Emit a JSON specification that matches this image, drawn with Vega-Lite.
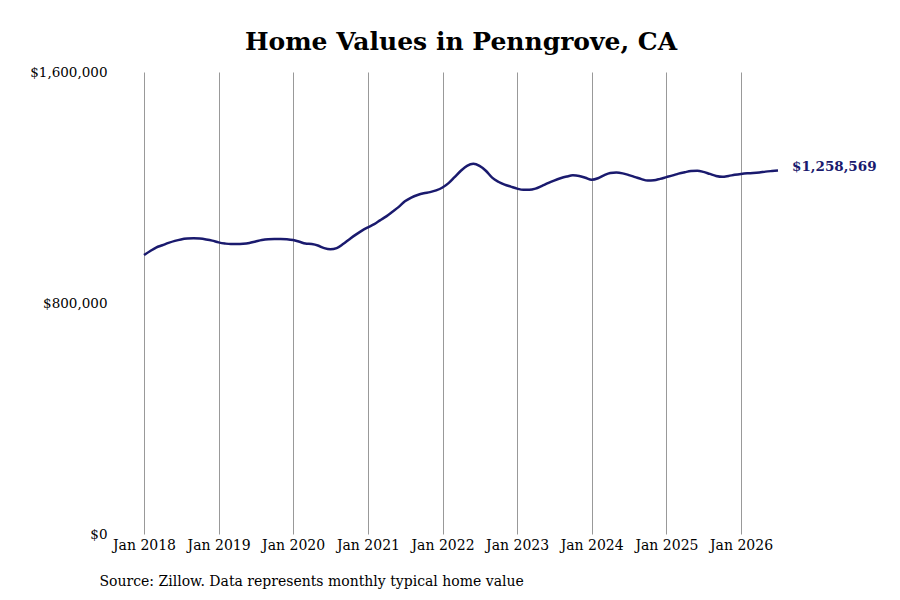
{
  "$schema": "https://vega.github.io/schema/vega-lite/v6.json",
  "autosize": "none",
  "width": 634,
  "height": 462,
  "padding": {"left": 144, "top": 72, "right": 122, "bottom": 66},
  "background": "white",
  "config": {
    "font": "DejaVu Serif",
    "view": {"stroke": null}
  },
  "title": {
    "text": "Home Values in Penngrove, CA",
    "font": "DejaVu Serif",
    "fontSize": 25,
    "fontWeight": "bold",
    "color": "black",
    "anchor": "middle",
    "offset": 10
  },
  "data": {
    "values": [
      {"date": "2018-01-01", "value": 966000},
      {"date": "2018-02-01", "value": 980000},
      {"date": "2018-03-01", "value": 992000},
      {"date": "2018-04-01", "value": 1000000},
      {"date": "2018-05-01", "value": 1008000},
      {"date": "2018-06-01", "value": 1015000},
      {"date": "2018-07-01", "value": 1020000},
      {"date": "2018-08-01", "value": 1023000},
      {"date": "2018-09-01", "value": 1024000},
      {"date": "2018-10-01", "value": 1023000},
      {"date": "2018-11-01", "value": 1020000},
      {"date": "2018-12-01", "value": 1016000},
      {"date": "2019-01-01", "value": 1010000},
      {"date": "2019-02-01", "value": 1006000},
      {"date": "2019-03-01", "value": 1004000},
      {"date": "2019-04-01", "value": 1004000},
      {"date": "2019-05-01", "value": 1005000},
      {"date": "2019-06-01", "value": 1008000},
      {"date": "2019-07-01", "value": 1013000},
      {"date": "2019-08-01", "value": 1018000},
      {"date": "2019-09-01", "value": 1021000},
      {"date": "2019-10-01", "value": 1022000},
      {"date": "2019-11-01", "value": 1022000},
      {"date": "2019-12-01", "value": 1021000},
      {"date": "2020-01-01", "value": 1018000},
      {"date": "2020-02-01", "value": 1012000},
      {"date": "2020-03-01", "value": 1006000},
      {"date": "2020-04-01", "value": 1004000},
      {"date": "2020-05-01", "value": 999000},
      {"date": "2020-06-01", "value": 990000},
      {"date": "2020-07-01", "value": 986000},
      {"date": "2020-08-01", "value": 990000},
      {"date": "2020-09-01", "value": 1004000},
      {"date": "2020-10-01", "value": 1020000},
      {"date": "2020-11-01", "value": 1036000},
      {"date": "2020-12-01", "value": 1050000},
      {"date": "2021-01-01", "value": 1062000},
      {"date": "2021-02-01", "value": 1073000},
      {"date": "2021-03-01", "value": 1086000},
      {"date": "2021-04-01", "value": 1100000},
      {"date": "2021-05-01", "value": 1116000},
      {"date": "2021-06-01", "value": 1133000},
      {"date": "2021-07-01", "value": 1152000},
      {"date": "2021-08-01", "value": 1165000},
      {"date": "2021-09-01", "value": 1174000},
      {"date": "2021-10-01", "value": 1180000},
      {"date": "2021-11-01", "value": 1184000},
      {"date": "2021-12-01", "value": 1190000},
      {"date": "2022-01-01", "value": 1200000},
      {"date": "2022-02-01", "value": 1216000},
      {"date": "2022-03-01", "value": 1236000},
      {"date": "2022-04-01", "value": 1258000},
      {"date": "2022-05-01", "value": 1275000},
      {"date": "2022-06-01", "value": 1282000},
      {"date": "2022-07-01", "value": 1275000},
      {"date": "2022-08-01", "value": 1258000},
      {"date": "2022-09-01", "value": 1234000},
      {"date": "2022-10-01", "value": 1220000},
      {"date": "2022-11-01", "value": 1210000},
      {"date": "2022-12-01", "value": 1203000},
      {"date": "2023-01-01", "value": 1196000},
      {"date": "2023-02-01", "value": 1192000},
      {"date": "2023-03-01", "value": 1192000},
      {"date": "2023-04-01", "value": 1196000},
      {"date": "2023-05-01", "value": 1205000},
      {"date": "2023-06-01", "value": 1215000},
      {"date": "2023-07-01", "value": 1224000},
      {"date": "2023-08-01", "value": 1232000},
      {"date": "2023-09-01", "value": 1238000},
      {"date": "2023-10-01", "value": 1242000},
      {"date": "2023-11-01", "value": 1240000},
      {"date": "2023-12-01", "value": 1234000},
      {"date": "2024-01-01", "value": 1227000},
      {"date": "2024-02-01", "value": 1232000},
      {"date": "2024-03-01", "value": 1242000},
      {"date": "2024-04-01", "value": 1250000},
      {"date": "2024-05-01", "value": 1252000},
      {"date": "2024-06-01", "value": 1249000},
      {"date": "2024-07-01", "value": 1243000},
      {"date": "2024-08-01", "value": 1236000},
      {"date": "2024-09-01", "value": 1229000},
      {"date": "2024-10-01", "value": 1224000},
      {"date": "2024-11-01", "value": 1225000},
      {"date": "2024-12-01", "value": 1230000},
      {"date": "2025-01-01", "value": 1236000},
      {"date": "2025-02-01", "value": 1242000},
      {"date": "2025-03-01", "value": 1248000},
      {"date": "2025-04-01", "value": 1253000},
      {"date": "2025-05-01", "value": 1257000},
      {"date": "2025-06-01", "value": 1258000},
      {"date": "2025-07-01", "value": 1254000},
      {"date": "2025-08-01", "value": 1247000},
      {"date": "2025-09-01", "value": 1240000},
      {"date": "2025-10-01", "value": 1237000},
      {"date": "2025-11-01", "value": 1240000},
      {"date": "2025-12-01", "value": 1244000},
      {"date": "2026-01-01", "value": 1247000},
      {"date": "2026-02-01", "value": 1249000},
      {"date": "2026-03-01", "value": 1250000},
      {"date": "2026-04-01", "value": 1252000},
      {"date": "2026-05-01", "value": 1255000},
      {"date": "2026-06-01", "value": 1257000},
      {"date": "2026-07-01", "value": 1258569, "last": true}
    ]
  },
  "encoding": {
    "x": {
      "field": "date",
      "type": "temporal",
      "axis": {
        "format": "%b %Y",
        "tickCount": {"interval": "year", "step": 1},
        "grid": true,
        "gridColor": "#999999",
        "gridWidth": 1,
        "domain": false,
        "ticks": false,
        "labelAlign": "center",
        "labelOverlap": false,
        "labelFont": "DejaVu Serif",
        "labelFontSize": 14,
        "labelColor": "black",
        "labelPadding": 4,
        "title": "Source: Zillow. Data represents monthly typical home value",
        "titleFont": "DejaVu Serif",
        "titleFontSize": 14,
        "titleFontWeight": "normal",
        "titleColor": "black",
        "titleAnchor": "start",
        "titleAlign": "left",
        "titleBaseline": "middle",
        "titleX": -45,
        "titleY": 47
      }
    },
    "y": {
      "field": "value",
      "type": "quantitative",
      "scale": {"domain": [0, 1600000], "nice": false},
      "axis": {
        "values": [0, 800000, 1600000],
        "format": "$,.0f",
        "grid": false,
        "domain": false,
        "ticks": false,
        "labelFont": "DejaVu Serif",
        "labelFontSize": 13.5,
        "labelColor": "black",
        "labelPadding": 37,
        "title": null
      }
    }
  },
  "layer": [
    {
      "mark": {"type": "line", "color": "#1a1a6e", "strokeWidth": 2.5, "interpolate": "monotone"}
    },
    {
      "transform": [{"filter": "datum.last"}],
      "mark": {
        "type": "text",
        "align": "left",
        "baseline": "middle",
        "dx": 14,
        "dy": -4,
        "font": "DejaVu Serif",
        "fontSize": 13.5,
        "fontWeight": "bold",
        "color": "#1a1a6e"
      },
      "encoding": {
        "text": {"field": "value", "type": "quantitative", "format": "$,.0f"}
      }
    }
  ]
}
